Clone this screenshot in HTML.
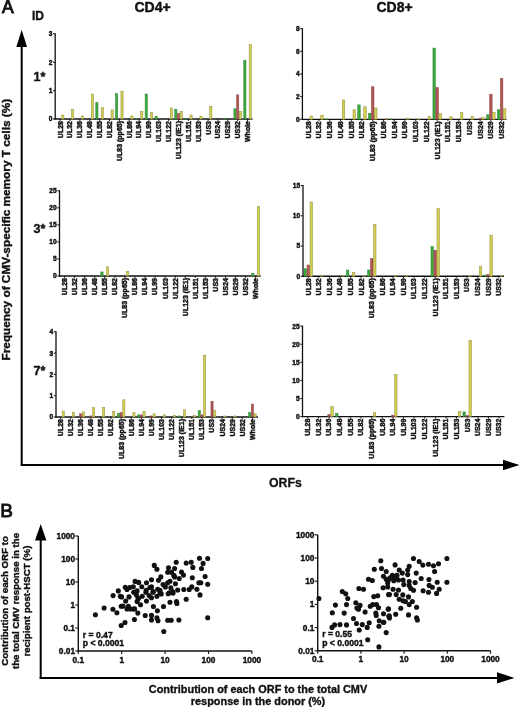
<!DOCTYPE html>
<html><head><meta charset="utf-8"><style>
html,body{margin:0;padding:0;background:#fff;}
body{width:520px;height:707px;overflow:hidden;}
svg{display:block;filter:blur(0.3px);}
text{font-family:"Liberation Sans", sans-serif;font-weight:bold;fill:#111;}
.tk{font-size:6.6px;stroke:#111;stroke-width:0.45px;}
.xl{font-size:7px;stroke:#111;stroke-width:0.45px;}
.big{font-size:18px;stroke:#111;stroke-width:0.6px;}
.bigb{font-size:19px;font-weight:normal;stroke:#111;stroke-width:0.9px;}
.id{font-size:12px;stroke:#111;stroke-width:0.35px;}
.ttl{font-size:14px;stroke:#111;stroke-width:0.4px;}
.star{font-size:12.5px;stroke:#111;stroke-width:0.4px;}
.ylab{font-size:11.8px;stroke:#111;stroke-width:0.4px;}
.orf{font-size:12.3px;stroke:#111;stroke-width:0.3px;}
.blab{font-size:10.9px;stroke:#111;stroke-width:0.35px;}
.bylab{font-size:9.7px;stroke:#111;stroke-width:0.4px;}
.sk{font-size:8.3px;stroke:#111;stroke-width:0.4px;}
.sk2{font-size:8.6px;stroke:#111;stroke-width:0.4px;}
circle{fill:#111;}
</style></head><body>
<svg width="520" height="707" viewBox="0 0 520 707">
<line x1="55.2" y1="33.30000000000001" x2="55.2" y2="119.6" stroke="#111" stroke-width="1.3"/>
<line x1="54.6" y1="119.0" x2="252.5" y2="119.0" stroke="#111" stroke-width="1.3"/>
<line x1="53.0" y1="119.00" x2="55.2" y2="119.00" stroke="#111" stroke-width="1"/>
<text x="52.400000000000006" y="121.40" class="tk" text-anchor="end">0</text>
<line x1="53.0" y1="90.60" x2="55.2" y2="90.60" stroke="#111" stroke-width="1"/>
<text x="52.400000000000006" y="93.00" class="tk" text-anchor="end">1</text>
<line x1="53.0" y1="62.20" x2="55.2" y2="62.20" stroke="#111" stroke-width="1"/>
<text x="52.400000000000006" y="64.60" class="tk" text-anchor="end">2</text>
<line x1="53.0" y1="33.80" x2="55.2" y2="33.80" stroke="#111" stroke-width="1"/>
<text x="52.400000000000006" y="36.20" class="tk" text-anchor="end">3</text>
<line x1="60.13" y1="119.0" x2="60.13" y2="121.0" stroke="#111" stroke-width="0.9"/>
<text class="xl" transform="translate(62.53,121.0) rotate(-90)" text-anchor="end">UL28</text>
<rect x="61.73" y="115.02" width="2.20" height="3.98" fill="#d2d04c" stroke="#8f8c45" stroke-width="0.5"/>
<line x1="70.00" y1="119.0" x2="70.00" y2="121.0" stroke="#111" stroke-width="0.9"/>
<text class="xl" transform="translate(72.40,121.0) rotate(-90)" text-anchor="end">UL32</text>
<rect x="71.60" y="109.34" width="2.20" height="9.66" fill="#d2d04c" stroke="#8f8c45" stroke-width="0.5"/>
<line x1="79.86" y1="119.0" x2="79.86" y2="121.0" stroke="#111" stroke-width="0.9"/>
<text class="xl" transform="translate(82.26,121.0) rotate(-90)" text-anchor="end">UL36</text>
<rect x="81.46" y="115.88" width="2.20" height="3.12" fill="#d2d04c" stroke="#8f8c45" stroke-width="0.5"/>
<line x1="89.73" y1="119.0" x2="89.73" y2="121.0" stroke="#111" stroke-width="0.9"/>
<text class="xl" transform="translate(92.13,121.0) rotate(-90)" text-anchor="end">UL48</text>
<rect x="91.33" y="94.01" width="2.20" height="24.99" fill="#d2d04c" stroke="#8f8c45" stroke-width="0.5"/>
<line x1="99.59" y1="119.0" x2="99.59" y2="121.0" stroke="#111" stroke-width="0.9"/>
<text class="xl" transform="translate(101.99,121.0) rotate(-90)" text-anchor="end">UL55</text>
<rect x="95.79" y="102.53" width="2.20" height="16.47" fill="#3aaa3a" stroke="#2d7d35" stroke-width="0.5"/>
<rect x="101.19" y="107.64" width="2.20" height="11.36" fill="#d2d04c" stroke="#8f8c45" stroke-width="0.5"/>
<line x1="109.46" y1="119.0" x2="109.46" y2="121.0" stroke="#111" stroke-width="0.9"/>
<text class="xl" transform="translate(111.86,121.0) rotate(-90)" text-anchor="end">UL82</text>
<rect x="111.06" y="109.91" width="2.20" height="9.09" fill="#d2d04c" stroke="#8f8c45" stroke-width="0.5"/>
<line x1="119.32" y1="119.0" x2="119.32" y2="121.0" stroke="#111" stroke-width="0.9"/>
<text class="xl" transform="translate(121.72,121.0) rotate(-90)" text-anchor="end">UL83 (pp65)</text>
<rect x="115.52" y="93.72" width="2.20" height="25.28" fill="#3aaa3a" stroke="#2d7d35" stroke-width="0.5"/>
<rect x="120.92" y="91.17" width="2.20" height="27.83" fill="#d2d04c" stroke="#8f8c45" stroke-width="0.5"/>
<line x1="129.19" y1="119.0" x2="129.19" y2="121.0" stroke="#111" stroke-width="0.9"/>
<text class="xl" transform="translate(131.59,121.0) rotate(-90)" text-anchor="end">UL86</text>
<rect x="130.79" y="115.88" width="2.20" height="3.12" fill="#d2d04c" stroke="#8f8c45" stroke-width="0.5"/>
<line x1="139.05" y1="119.0" x2="139.05" y2="121.0" stroke="#111" stroke-width="0.9"/>
<text class="xl" transform="translate(141.45,121.0) rotate(-90)" text-anchor="end">UL94</text>
<rect x="135.25" y="118.43" width="2.20" height="0.57" fill="#3aaa3a" stroke="#2d7d35" stroke-width="0.5"/>
<rect x="140.65" y="111.33" width="2.20" height="7.67" fill="#d2d04c" stroke="#8f8c45" stroke-width="0.5"/>
<line x1="148.92" y1="119.0" x2="148.92" y2="121.0" stroke="#111" stroke-width="0.9"/>
<text class="xl" transform="translate(151.32,121.0) rotate(-90)" text-anchor="end">UL99</text>
<rect x="145.12" y="94.01" width="2.20" height="24.99" fill="#3aaa3a" stroke="#2d7d35" stroke-width="0.5"/>
<rect x="150.52" y="112.47" width="2.20" height="6.53" fill="#d2d04c" stroke="#8f8c45" stroke-width="0.5"/>
<line x1="158.78" y1="119.0" x2="158.78" y2="121.0" stroke="#111" stroke-width="0.9"/>
<text class="xl" transform="translate(161.18,121.0) rotate(-90)" text-anchor="end">UL103</text>
<rect x="154.98" y="116.16" width="2.20" height="2.84" fill="#3aaa3a" stroke="#2d7d35" stroke-width="0.5"/>
<line x1="168.65" y1="119.0" x2="168.65" y2="121.0" stroke="#111" stroke-width="0.9"/>
<text class="xl" transform="translate(171.05,121.0) rotate(-90)" text-anchor="end">UL122</text>
<rect x="170.25" y="107.92" width="2.20" height="11.08" fill="#d2d04c" stroke="#8f8c45" stroke-width="0.5"/>
<line x1="178.51" y1="119.0" x2="178.51" y2="121.0" stroke="#111" stroke-width="0.9"/>
<text class="xl" transform="translate(180.91,121.0) rotate(-90)" text-anchor="end">UL123 (IE1)</text>
<rect x="174.71" y="109.34" width="2.20" height="9.66" fill="#3aaa3a" stroke="#2d7d35" stroke-width="0.5"/>
<rect x="177.41" y="113.60" width="2.20" height="5.40" fill="#b05454" stroke="#8c4040" stroke-width="0.5"/>
<rect x="180.11" y="111.33" width="2.20" height="7.67" fill="#d2d04c" stroke="#8f8c45" stroke-width="0.5"/>
<line x1="188.38" y1="119.0" x2="188.38" y2="121.0" stroke="#111" stroke-width="0.9"/>
<text class="xl" transform="translate(190.78,121.0) rotate(-90)" text-anchor="end">UL151</text>
<rect x="184.58" y="118.43" width="2.20" height="0.57" fill="#3aaa3a" stroke="#2d7d35" stroke-width="0.5"/>
<rect x="189.98" y="115.02" width="2.20" height="3.98" fill="#d2d04c" stroke="#8f8c45" stroke-width="0.5"/>
<line x1="198.24" y1="119.0" x2="198.24" y2="121.0" stroke="#111" stroke-width="0.9"/>
<text class="xl" transform="translate(200.64,121.0) rotate(-90)" text-anchor="end">UL153</text>
<rect x="199.84" y="116.16" width="2.20" height="2.84" fill="#d2d04c" stroke="#8f8c45" stroke-width="0.5"/>
<line x1="208.11" y1="119.0" x2="208.11" y2="121.0" stroke="#111" stroke-width="0.9"/>
<text class="xl" transform="translate(210.51,121.0) rotate(-90)" text-anchor="end">US3</text>
<rect x="209.71" y="106.22" width="2.20" height="12.78" fill="#d2d04c" stroke="#8f8c45" stroke-width="0.5"/>
<line x1="217.97" y1="119.0" x2="217.97" y2="121.0" stroke="#111" stroke-width="0.9"/>
<text class="xl" transform="translate(220.37,121.0) rotate(-90)" text-anchor="end">US24</text>
<line x1="227.84" y1="119.0" x2="227.84" y2="121.0" stroke="#111" stroke-width="0.9"/>
<text class="xl" transform="translate(230.24,121.0) rotate(-90)" text-anchor="end">US29</text>
<rect x="224.04" y="118.43" width="2.20" height="0.57" fill="#3aaa3a" stroke="#2d7d35" stroke-width="0.5"/>
<line x1="237.70" y1="119.0" x2="237.70" y2="121.0" stroke="#111" stroke-width="0.9"/>
<text class="xl" transform="translate(240.10,121.0) rotate(-90)" text-anchor="end">US32</text>
<rect x="233.90" y="108.78" width="2.20" height="10.22" fill="#3aaa3a" stroke="#2d7d35" stroke-width="0.5"/>
<rect x="236.60" y="94.86" width="2.20" height="24.14" fill="#b05454" stroke="#8c4040" stroke-width="0.5"/>
<rect x="239.30" y="111.33" width="2.20" height="7.67" fill="#d2d04c" stroke="#8f8c45" stroke-width="0.5"/>
<line x1="247.57" y1="119.0" x2="247.57" y2="121.0" stroke="#111" stroke-width="0.9"/>
<text class="xl" transform="translate(249.97,121.0) rotate(-90)" text-anchor="end">Whole</text>
<rect x="243.77" y="60.21" width="2.20" height="58.79" fill="#3aaa3a" stroke="#2d7d35" stroke-width="0.5"/>
<rect x="249.17" y="44.31" width="2.20" height="74.69" fill="#d2d04c" stroke="#8f8c45" stroke-width="0.5"/>
<line x1="59.5" y1="190.25" x2="59.5" y2="276.6" stroke="#111" stroke-width="1.3"/>
<line x1="58.9" y1="276.0" x2="260.7" y2="276.0" stroke="#111" stroke-width="1.3"/>
<line x1="57.3" y1="276.00" x2="59.5" y2="276.00" stroke="#111" stroke-width="1"/>
<text x="56.7" y="278.40" class="tk" text-anchor="end">0</text>
<line x1="57.3" y1="258.95" x2="59.5" y2="258.95" stroke="#111" stroke-width="1"/>
<text x="56.7" y="261.35" class="tk" text-anchor="end">5</text>
<line x1="57.3" y1="241.90" x2="59.5" y2="241.90" stroke="#111" stroke-width="1"/>
<text x="56.7" y="244.30" class="tk" text-anchor="end">10</text>
<line x1="57.3" y1="224.85" x2="59.5" y2="224.85" stroke="#111" stroke-width="1"/>
<text x="56.7" y="227.25" class="tk" text-anchor="end">15</text>
<line x1="57.3" y1="207.80" x2="59.5" y2="207.80" stroke="#111" stroke-width="1"/>
<text x="56.7" y="210.20" class="tk" text-anchor="end">20</text>
<line x1="57.3" y1="190.75" x2="59.5" y2="190.75" stroke="#111" stroke-width="1"/>
<text x="56.7" y="193.15" class="tk" text-anchor="end">25</text>
<line x1="64.53" y1="276.0" x2="64.53" y2="278.0" stroke="#111" stroke-width="0.9"/>
<text class="xl" transform="translate(66.93,278.0) rotate(-90)" text-anchor="end">UL28</text>
<line x1="74.59" y1="276.0" x2="74.59" y2="278.0" stroke="#111" stroke-width="0.9"/>
<text class="xl" transform="translate(76.99,278.0) rotate(-90)" text-anchor="end">UL32</text>
<line x1="84.65" y1="276.0" x2="84.65" y2="278.0" stroke="#111" stroke-width="0.9"/>
<text class="xl" transform="translate(87.05,278.0) rotate(-90)" text-anchor="end">UL36</text>
<line x1="94.71" y1="276.0" x2="94.71" y2="278.0" stroke="#111" stroke-width="0.9"/>
<text class="xl" transform="translate(97.11,278.0) rotate(-90)" text-anchor="end">UL48</text>
<line x1="104.77" y1="276.0" x2="104.77" y2="278.0" stroke="#111" stroke-width="0.9"/>
<text class="xl" transform="translate(107.17,278.0) rotate(-90)" text-anchor="end">UL55</text>
<rect x="100.82" y="271.91" width="2.30" height="4.09" fill="#3aaa3a" stroke="#2d7d35" stroke-width="0.5"/>
<rect x="106.42" y="266.79" width="2.30" height="9.21" fill="#d2d04c" stroke="#8f8c45" stroke-width="0.5"/>
<line x1="114.83" y1="276.0" x2="114.83" y2="278.0" stroke="#111" stroke-width="0.9"/>
<text class="xl" transform="translate(117.23,278.0) rotate(-90)" text-anchor="end">UL82</text>
<line x1="124.89" y1="276.0" x2="124.89" y2="278.0" stroke="#111" stroke-width="0.9"/>
<text class="xl" transform="translate(127.29,278.0) rotate(-90)" text-anchor="end">UL83 (pp65)</text>
<rect x="126.54" y="271.23" width="2.30" height="4.77" fill="#d2d04c" stroke="#8f8c45" stroke-width="0.5"/>
<line x1="134.95" y1="276.0" x2="134.95" y2="278.0" stroke="#111" stroke-width="0.9"/>
<text class="xl" transform="translate(137.35,278.0) rotate(-90)" text-anchor="end">UL86</text>
<line x1="145.01" y1="276.0" x2="145.01" y2="278.0" stroke="#111" stroke-width="0.9"/>
<text class="xl" transform="translate(147.41,278.0) rotate(-90)" text-anchor="end">UL94</text>
<line x1="155.07" y1="276.0" x2="155.07" y2="278.0" stroke="#111" stroke-width="0.9"/>
<text class="xl" transform="translate(157.47,278.0) rotate(-90)" text-anchor="end">UL99</text>
<line x1="165.13" y1="276.0" x2="165.13" y2="278.0" stroke="#111" stroke-width="0.9"/>
<text class="xl" transform="translate(167.53,278.0) rotate(-90)" text-anchor="end">UL103</text>
<line x1="175.19" y1="276.0" x2="175.19" y2="278.0" stroke="#111" stroke-width="0.9"/>
<text class="xl" transform="translate(177.59,278.0) rotate(-90)" text-anchor="end">UL122</text>
<line x1="185.25" y1="276.0" x2="185.25" y2="278.0" stroke="#111" stroke-width="0.9"/>
<text class="xl" transform="translate(187.65,278.0) rotate(-90)" text-anchor="end">UL123 (IE1)</text>
<line x1="195.31" y1="276.0" x2="195.31" y2="278.0" stroke="#111" stroke-width="0.9"/>
<text class="xl" transform="translate(197.71,278.0) rotate(-90)" text-anchor="end">UL151</text>
<line x1="205.37" y1="276.0" x2="205.37" y2="278.0" stroke="#111" stroke-width="0.9"/>
<text class="xl" transform="translate(207.77,278.0) rotate(-90)" text-anchor="end">UL153</text>
<line x1="215.43" y1="276.0" x2="215.43" y2="278.0" stroke="#111" stroke-width="0.9"/>
<text class="xl" transform="translate(217.83,278.0) rotate(-90)" text-anchor="end">US3</text>
<line x1="225.49" y1="276.0" x2="225.49" y2="278.0" stroke="#111" stroke-width="0.9"/>
<text class="xl" transform="translate(227.89,278.0) rotate(-90)" text-anchor="end">US24</text>
<line x1="235.55" y1="276.0" x2="235.55" y2="278.0" stroke="#111" stroke-width="0.9"/>
<text class="xl" transform="translate(237.95,278.0) rotate(-90)" text-anchor="end">US29</text>
<line x1="245.61" y1="276.0" x2="245.61" y2="278.0" stroke="#111" stroke-width="0.9"/>
<text class="xl" transform="translate(248.01,278.0) rotate(-90)" text-anchor="end">US32</text>
<line x1="255.67" y1="276.0" x2="255.67" y2="278.0" stroke="#111" stroke-width="0.9"/>
<text class="xl" transform="translate(258.07,278.0) rotate(-90)" text-anchor="end">Whole</text>
<rect x="251.72" y="273.44" width="2.30" height="2.56" fill="#3aaa3a" stroke="#2d7d35" stroke-width="0.5"/>
<rect x="257.32" y="206.44" width="2.30" height="69.56" fill="#d2d04c" stroke="#8f8c45" stroke-width="0.5"/>
<line x1="56.0" y1="331.3" x2="56.0" y2="417.6" stroke="#111" stroke-width="1.3"/>
<line x1="55.4" y1="417.0" x2="258.0" y2="417.0" stroke="#111" stroke-width="1.3"/>
<line x1="53.8" y1="417.00" x2="56.0" y2="417.00" stroke="#111" stroke-width="1"/>
<text x="53.2" y="419.40" class="tk" text-anchor="end">0</text>
<line x1="53.8" y1="395.70" x2="56.0" y2="395.70" stroke="#111" stroke-width="1"/>
<text x="53.2" y="398.10" class="tk" text-anchor="end">1</text>
<line x1="53.8" y1="374.40" x2="56.0" y2="374.40" stroke="#111" stroke-width="1"/>
<text x="53.2" y="376.80" class="tk" text-anchor="end">2</text>
<line x1="53.8" y1="353.10" x2="56.0" y2="353.10" stroke="#111" stroke-width="1"/>
<text x="53.2" y="355.50" class="tk" text-anchor="end">3</text>
<line x1="53.8" y1="331.80" x2="56.0" y2="331.80" stroke="#111" stroke-width="1"/>
<text x="53.2" y="334.20" class="tk" text-anchor="end">4</text>
<line x1="60.55" y1="417.0" x2="60.55" y2="419.0" stroke="#111" stroke-width="0.9"/>
<text class="xl" transform="translate(62.95,419.0) rotate(-90)" text-anchor="end">UL28</text>
<rect x="62.15" y="411.04" width="2.20" height="5.96" fill="#d2d04c" stroke="#8f8c45" stroke-width="0.5"/>
<line x1="70.65" y1="417.0" x2="70.65" y2="419.0" stroke="#111" stroke-width="0.9"/>
<text class="xl" transform="translate(73.05,419.0) rotate(-90)" text-anchor="end">UL32</text>
<rect x="72.25" y="412.31" width="2.20" height="4.69" fill="#d2d04c" stroke="#8f8c45" stroke-width="0.5"/>
<line x1="80.75" y1="417.0" x2="80.75" y2="419.0" stroke="#111" stroke-width="0.9"/>
<text class="xl" transform="translate(83.15,419.0) rotate(-90)" text-anchor="end">UL36</text>
<rect x="79.65" y="413.81" width="2.20" height="3.19" fill="#b05454" stroke="#8c4040" stroke-width="0.5"/>
<rect x="82.35" y="411.89" width="2.20" height="5.11" fill="#d2d04c" stroke="#8f8c45" stroke-width="0.5"/>
<line x1="90.85" y1="417.0" x2="90.85" y2="419.0" stroke="#111" stroke-width="0.9"/>
<text class="xl" transform="translate(93.25,419.0) rotate(-90)" text-anchor="end">UL48</text>
<rect x="89.75" y="415.94" width="2.20" height="1.07" fill="#b05454" stroke="#8c4040" stroke-width="0.5"/>
<rect x="92.45" y="407.42" width="2.20" height="9.59" fill="#d2d04c" stroke="#8f8c45" stroke-width="0.5"/>
<line x1="100.95" y1="417.0" x2="100.95" y2="419.0" stroke="#111" stroke-width="0.9"/>
<text class="xl" transform="translate(103.35,419.0) rotate(-90)" text-anchor="end">UL55</text>
<rect x="102.55" y="407.42" width="2.20" height="9.59" fill="#d2d04c" stroke="#8f8c45" stroke-width="0.5"/>
<line x1="111.05" y1="417.0" x2="111.05" y2="419.0" stroke="#111" stroke-width="0.9"/>
<text class="xl" transform="translate(113.45,419.0) rotate(-90)" text-anchor="end">UL82</text>
<rect x="112.65" y="411.25" width="2.20" height="5.75" fill="#d2d04c" stroke="#8f8c45" stroke-width="0.5"/>
<line x1="121.15" y1="417.0" x2="121.15" y2="419.0" stroke="#111" stroke-width="0.9"/>
<text class="xl" transform="translate(123.55,419.0) rotate(-90)" text-anchor="end">UL83 (pp65)</text>
<rect x="117.35" y="413.17" width="2.20" height="3.83" fill="#3aaa3a" stroke="#2d7d35" stroke-width="0.5"/>
<rect x="120.05" y="412.74" width="2.20" height="4.26" fill="#b05454" stroke="#8c4040" stroke-width="0.5"/>
<rect x="122.75" y="399.75" width="2.20" height="17.25" fill="#d2d04c" stroke="#8f8c45" stroke-width="0.5"/>
<line x1="131.25" y1="417.0" x2="131.25" y2="419.0" stroke="#111" stroke-width="0.9"/>
<text class="xl" transform="translate(133.65,419.0) rotate(-90)" text-anchor="end">UL86</text>
<rect x="132.85" y="412.74" width="2.20" height="4.26" fill="#d2d04c" stroke="#8f8c45" stroke-width="0.5"/>
<line x1="141.35" y1="417.0" x2="141.35" y2="419.0" stroke="#111" stroke-width="0.9"/>
<text class="xl" transform="translate(143.75,419.0) rotate(-90)" text-anchor="end">UL94</text>
<rect x="137.55" y="414.87" width="2.20" height="2.13" fill="#3aaa3a" stroke="#2d7d35" stroke-width="0.5"/>
<rect x="140.25" y="414.87" width="2.20" height="2.13" fill="#b05454" stroke="#8c4040" stroke-width="0.5"/>
<rect x="142.95" y="411.25" width="2.20" height="5.75" fill="#d2d04c" stroke="#8f8c45" stroke-width="0.5"/>
<line x1="151.45" y1="417.0" x2="151.45" y2="419.0" stroke="#111" stroke-width="0.9"/>
<text class="xl" transform="translate(153.85,419.0) rotate(-90)" text-anchor="end">UL99</text>
<rect x="150.35" y="415.94" width="2.20" height="1.07" fill="#b05454" stroke="#8c4040" stroke-width="0.5"/>
<rect x="153.05" y="413.81" width="2.20" height="3.19" fill="#d2d04c" stroke="#8f8c45" stroke-width="0.5"/>
<line x1="161.55" y1="417.0" x2="161.55" y2="419.0" stroke="#111" stroke-width="0.9"/>
<text class="xl" transform="translate(163.95,419.0) rotate(-90)" text-anchor="end">UL103</text>
<rect x="163.15" y="414.87" width="2.20" height="2.13" fill="#d2d04c" stroke="#8f8c45" stroke-width="0.5"/>
<line x1="171.65" y1="417.0" x2="171.65" y2="419.0" stroke="#111" stroke-width="0.9"/>
<text class="xl" transform="translate(174.05,419.0) rotate(-90)" text-anchor="end">UL122</text>
<rect x="173.25" y="415.30" width="2.20" height="1.70" fill="#d2d04c" stroke="#8f8c45" stroke-width="0.5"/>
<line x1="181.75" y1="417.0" x2="181.75" y2="419.0" stroke="#111" stroke-width="0.9"/>
<text class="xl" transform="translate(184.15,419.0) rotate(-90)" text-anchor="end">UL123 (IE1)</text>
<rect x="177.95" y="415.94" width="2.20" height="1.07" fill="#3aaa3a" stroke="#2d7d35" stroke-width="0.5"/>
<rect x="183.35" y="409.76" width="2.20" height="7.24" fill="#d2d04c" stroke="#8f8c45" stroke-width="0.5"/>
<line x1="191.85" y1="417.0" x2="191.85" y2="419.0" stroke="#111" stroke-width="0.9"/>
<text class="xl" transform="translate(194.25,419.0) rotate(-90)" text-anchor="end">UL151</text>
<rect x="193.45" y="415.30" width="2.20" height="1.70" fill="#d2d04c" stroke="#8f8c45" stroke-width="0.5"/>
<line x1="201.95" y1="417.0" x2="201.95" y2="419.0" stroke="#111" stroke-width="0.9"/>
<text class="xl" transform="translate(204.35,419.0) rotate(-90)" text-anchor="end">UL153</text>
<rect x="198.15" y="410.61" width="2.20" height="6.39" fill="#3aaa3a" stroke="#2d7d35" stroke-width="0.5"/>
<rect x="200.85" y="414.87" width="2.20" height="2.13" fill="#b05454" stroke="#8c4040" stroke-width="0.5"/>
<rect x="203.55" y="355.23" width="2.20" height="61.77" fill="#d2d04c" stroke="#8f8c45" stroke-width="0.5"/>
<line x1="212.05" y1="417.0" x2="212.05" y2="419.0" stroke="#111" stroke-width="0.9"/>
<text class="xl" transform="translate(214.45,419.0) rotate(-90)" text-anchor="end">US3</text>
<rect x="210.95" y="401.24" width="2.20" height="15.76" fill="#b05454" stroke="#8c4040" stroke-width="0.5"/>
<rect x="213.65" y="410.61" width="2.20" height="6.39" fill="#d2d04c" stroke="#8f8c45" stroke-width="0.5"/>
<line x1="222.15" y1="417.0" x2="222.15" y2="419.0" stroke="#111" stroke-width="0.9"/>
<text class="xl" transform="translate(224.55,419.0) rotate(-90)" text-anchor="end">US24</text>
<rect x="223.75" y="415.94" width="2.20" height="1.07" fill="#d2d04c" stroke="#8f8c45" stroke-width="0.5"/>
<line x1="232.25" y1="417.0" x2="232.25" y2="419.0" stroke="#111" stroke-width="0.9"/>
<text class="xl" transform="translate(234.65,419.0) rotate(-90)" text-anchor="end">US29</text>
<rect x="233.85" y="415.94" width="2.20" height="1.07" fill="#d2d04c" stroke="#8f8c45" stroke-width="0.5"/>
<line x1="242.35" y1="417.0" x2="242.35" y2="419.0" stroke="#111" stroke-width="0.9"/>
<text class="xl" transform="translate(244.75,419.0) rotate(-90)" text-anchor="end">US32</text>
<line x1="252.45" y1="417.0" x2="252.45" y2="419.0" stroke="#111" stroke-width="0.9"/>
<text class="xl" transform="translate(254.85,419.0) rotate(-90)" text-anchor="end">Whole</text>
<rect x="248.65" y="412.74" width="2.20" height="4.26" fill="#3aaa3a" stroke="#2d7d35" stroke-width="0.5"/>
<rect x="251.35" y="404.01" width="2.20" height="12.99" fill="#b05454" stroke="#8c4040" stroke-width="0.5"/>
<rect x="254.05" y="413.81" width="2.20" height="3.19" fill="#d2d04c" stroke="#8f8c45" stroke-width="0.5"/>
<line x1="302.4" y1="28.08" x2="302.4" y2="119.89999999999999" stroke="#111" stroke-width="1.3"/>
<line x1="301.79999999999995" y1="119.3" x2="506.5" y2="119.3" stroke="#111" stroke-width="1.3"/>
<line x1="300.2" y1="119.30" x2="302.4" y2="119.30" stroke="#111" stroke-width="1"/>
<text x="299.59999999999997" y="121.70" class="tk" text-anchor="end">0</text>
<line x1="300.2" y1="96.62" x2="302.4" y2="96.62" stroke="#111" stroke-width="1"/>
<text x="299.59999999999997" y="99.02" class="tk" text-anchor="end">2</text>
<line x1="300.2" y1="73.94" x2="302.4" y2="73.94" stroke="#111" stroke-width="1"/>
<text x="299.59999999999997" y="76.34" class="tk" text-anchor="end">4</text>
<line x1="300.2" y1="51.26" x2="302.4" y2="51.26" stroke="#111" stroke-width="1"/>
<text x="299.59999999999997" y="53.66" class="tk" text-anchor="end">6</text>
<line x1="300.2" y1="28.58" x2="302.4" y2="28.58" stroke="#111" stroke-width="1"/>
<text x="299.59999999999997" y="30.98" class="tk" text-anchor="end">8</text>
<line x1="308.27" y1="119.3" x2="308.27" y2="121.3" stroke="#111" stroke-width="0.9"/>
<text class="xl" transform="translate(310.67,121.3) rotate(-90)" text-anchor="end">UL28</text>
<rect x="310.02" y="116.01" width="2.50" height="3.29" fill="#d2d04c" stroke="#8f8c45" stroke-width="0.5"/>
<line x1="319.01" y1="119.3" x2="319.01" y2="121.3" stroke="#111" stroke-width="0.9"/>
<text class="xl" transform="translate(321.41,121.3) rotate(-90)" text-anchor="end">UL32</text>
<rect x="320.76" y="115.22" width="2.50" height="4.08" fill="#d2d04c" stroke="#8f8c45" stroke-width="0.5"/>
<line x1="329.76" y1="119.3" x2="329.76" y2="121.3" stroke="#111" stroke-width="0.9"/>
<text class="xl" transform="translate(332.16,121.3) rotate(-90)" text-anchor="end">UL36</text>
<rect x="325.51" y="118.96" width="2.50" height="0.34" fill="#3aaa3a" stroke="#2d7d35" stroke-width="0.5"/>
<line x1="340.50" y1="119.3" x2="340.50" y2="121.3" stroke="#111" stroke-width="0.9"/>
<text class="xl" transform="translate(342.90,121.3) rotate(-90)" text-anchor="end">UL48</text>
<rect x="342.25" y="100.02" width="2.50" height="19.28" fill="#d2d04c" stroke="#8f8c45" stroke-width="0.5"/>
<line x1="351.24" y1="119.3" x2="351.24" y2="121.3" stroke="#111" stroke-width="0.9"/>
<text class="xl" transform="translate(353.64,121.3) rotate(-90)" text-anchor="end">UL55</text>
<rect x="352.99" y="109.77" width="2.50" height="9.53" fill="#d2d04c" stroke="#8f8c45" stroke-width="0.5"/>
<line x1="361.98" y1="119.3" x2="361.98" y2="121.3" stroke="#111" stroke-width="0.9"/>
<text class="xl" transform="translate(364.38,121.3) rotate(-90)" text-anchor="end">UL82</text>
<rect x="357.73" y="104.90" width="2.50" height="14.40" fill="#3aaa3a" stroke="#2d7d35" stroke-width="0.5"/>
<rect x="363.73" y="106.83" width="2.50" height="12.47" fill="#d2d04c" stroke="#8f8c45" stroke-width="0.5"/>
<line x1="372.72" y1="119.3" x2="372.72" y2="121.3" stroke="#111" stroke-width="0.9"/>
<text class="xl" transform="translate(375.12,121.3) rotate(-90)" text-anchor="end">UL83 (pp65)</text>
<rect x="368.47" y="113.40" width="2.50" height="5.90" fill="#3aaa3a" stroke="#2d7d35" stroke-width="0.5"/>
<rect x="371.47" y="86.75" width="2.50" height="32.55" fill="#b05454" stroke="#8c4040" stroke-width="0.5"/>
<rect x="374.47" y="107.96" width="2.50" height="11.34" fill="#d2d04c" stroke="#8f8c45" stroke-width="0.5"/>
<line x1="383.47" y1="119.3" x2="383.47" y2="121.3" stroke="#111" stroke-width="0.9"/>
<text class="xl" transform="translate(385.87,121.3) rotate(-90)" text-anchor="end">UL86</text>
<rect x="385.22" y="118.73" width="2.50" height="0.57" fill="#d2d04c" stroke="#8f8c45" stroke-width="0.5"/>
<line x1="394.21" y1="119.3" x2="394.21" y2="121.3" stroke="#111" stroke-width="0.9"/>
<text class="xl" transform="translate(396.61,121.3) rotate(-90)" text-anchor="end">UL94</text>
<rect x="389.96" y="118.96" width="2.50" height="0.34" fill="#3aaa3a" stroke="#2d7d35" stroke-width="0.5"/>
<line x1="404.95" y1="119.3" x2="404.95" y2="121.3" stroke="#111" stroke-width="0.9"/>
<text class="xl" transform="translate(407.35,121.3) rotate(-90)" text-anchor="end">UL99</text>
<rect x="406.70" y="118.73" width="2.50" height="0.57" fill="#d2d04c" stroke="#8f8c45" stroke-width="0.5"/>
<line x1="415.69" y1="119.3" x2="415.69" y2="121.3" stroke="#111" stroke-width="0.9"/>
<text class="xl" transform="translate(418.09,121.3) rotate(-90)" text-anchor="end">UL103</text>
<rect x="417.44" y="118.96" width="2.50" height="0.34" fill="#d2d04c" stroke="#8f8c45" stroke-width="0.5"/>
<line x1="426.43" y1="119.3" x2="426.43" y2="121.3" stroke="#111" stroke-width="0.9"/>
<text class="xl" transform="translate(428.83,121.3) rotate(-90)" text-anchor="end">UL122</text>
<rect x="428.18" y="116.24" width="2.50" height="3.06" fill="#d2d04c" stroke="#8f8c45" stroke-width="0.5"/>
<line x1="437.18" y1="119.3" x2="437.18" y2="121.3" stroke="#111" stroke-width="0.9"/>
<text class="xl" transform="translate(439.58,121.3) rotate(-90)" text-anchor="end">UL123 (IE1)</text>
<rect x="432.93" y="48.08" width="2.50" height="71.22" fill="#3aaa3a" stroke="#2d7d35" stroke-width="0.5"/>
<rect x="435.93" y="87.55" width="2.50" height="31.75" fill="#b05454" stroke="#8c4040" stroke-width="0.5"/>
<rect x="438.93" y="113.74" width="2.50" height="5.56" fill="#d2d04c" stroke="#8f8c45" stroke-width="0.5"/>
<line x1="447.92" y1="119.3" x2="447.92" y2="121.3" stroke="#111" stroke-width="0.9"/>
<text class="xl" transform="translate(450.32,121.3) rotate(-90)" text-anchor="end">UL151</text>
<rect x="449.67" y="116.81" width="2.50" height="2.49" fill="#d2d04c" stroke="#8f8c45" stroke-width="0.5"/>
<line x1="458.66" y1="119.3" x2="458.66" y2="121.3" stroke="#111" stroke-width="0.9"/>
<text class="xl" transform="translate(461.06,121.3) rotate(-90)" text-anchor="end">UL153</text>
<rect x="460.41" y="112.72" width="2.50" height="6.58" fill="#d2d04c" stroke="#8f8c45" stroke-width="0.5"/>
<line x1="469.40" y1="119.3" x2="469.40" y2="121.3" stroke="#111" stroke-width="0.9"/>
<text class="xl" transform="translate(471.80,121.3) rotate(-90)" text-anchor="end">US3</text>
<rect x="471.15" y="116.24" width="2.50" height="3.06" fill="#d2d04c" stroke="#8f8c45" stroke-width="0.5"/>
<line x1="480.14" y1="119.3" x2="480.14" y2="121.3" stroke="#111" stroke-width="0.9"/>
<text class="xl" transform="translate(482.54,121.3) rotate(-90)" text-anchor="end">US24</text>
<rect x="478.89" y="118.17" width="2.50" height="1.13" fill="#b05454" stroke="#8c4040" stroke-width="0.5"/>
<rect x="481.89" y="117.60" width="2.50" height="1.70" fill="#d2d04c" stroke="#8f8c45" stroke-width="0.5"/>
<line x1="490.89" y1="119.3" x2="490.89" y2="121.3" stroke="#111" stroke-width="0.9"/>
<text class="xl" transform="translate(493.29,121.3) rotate(-90)" text-anchor="end">US29</text>
<rect x="486.64" y="114.76" width="2.50" height="4.54" fill="#3aaa3a" stroke="#2d7d35" stroke-width="0.5"/>
<rect x="489.64" y="94.24" width="2.50" height="25.06" fill="#b05454" stroke="#8c4040" stroke-width="0.5"/>
<rect x="492.64" y="112.16" width="2.50" height="7.14" fill="#d2d04c" stroke="#8f8c45" stroke-width="0.5"/>
<line x1="501.63" y1="119.3" x2="501.63" y2="121.3" stroke="#111" stroke-width="0.9"/>
<text class="xl" transform="translate(504.03,121.3) rotate(-90)" text-anchor="end">US32</text>
<rect x="497.38" y="109.77" width="2.50" height="9.53" fill="#3aaa3a" stroke="#2d7d35" stroke-width="0.5"/>
<rect x="500.38" y="78.48" width="2.50" height="40.82" fill="#b05454" stroke="#8c4040" stroke-width="0.5"/>
<rect x="503.38" y="108.75" width="2.50" height="10.55" fill="#d2d04c" stroke="#8f8c45" stroke-width="0.5"/>
<line x1="303.0" y1="185.0" x2="303.0" y2="276.85" stroke="#111" stroke-width="1.3"/>
<line x1="302.4" y1="276.25" x2="504.0" y2="276.25" stroke="#111" stroke-width="1.3"/>
<line x1="300.8" y1="276.25" x2="303.0" y2="276.25" stroke="#111" stroke-width="1"/>
<text x="300.2" y="278.65" class="tk" text-anchor="end">0</text>
<line x1="300.8" y1="246.00" x2="303.0" y2="246.00" stroke="#111" stroke-width="1"/>
<text x="300.2" y="248.40" class="tk" text-anchor="end">5</text>
<line x1="300.8" y1="215.75" x2="303.0" y2="215.75" stroke="#111" stroke-width="1"/>
<text x="300.2" y="218.15" class="tk" text-anchor="end">10</text>
<line x1="300.8" y1="185.50" x2="303.0" y2="185.50" stroke="#111" stroke-width="1"/>
<text x="300.2" y="187.90" class="tk" text-anchor="end">15</text>
<line x1="308.29" y1="276.25" x2="308.29" y2="278.25" stroke="#111" stroke-width="0.9"/>
<text class="xl" transform="translate(310.69,278.25) rotate(-90)" text-anchor="end">UL28</text>
<rect x="304.04" y="268.75" width="2.50" height="7.50" fill="#3aaa3a" stroke="#2d7d35" stroke-width="0.5"/>
<rect x="307.04" y="265.00" width="2.50" height="11.25" fill="#b05454" stroke="#8c4040" stroke-width="0.5"/>
<rect x="310.04" y="202.02" width="2.50" height="74.23" fill="#d2d04c" stroke="#8f8c45" stroke-width="0.5"/>
<line x1="318.87" y1="276.25" x2="318.87" y2="278.25" stroke="#111" stroke-width="0.9"/>
<text class="xl" transform="translate(321.27,278.25) rotate(-90)" text-anchor="end">UL32</text>
<rect x="320.62" y="275.64" width="2.50" height="0.60" fill="#d2d04c" stroke="#8f8c45" stroke-width="0.5"/>
<line x1="329.45" y1="276.25" x2="329.45" y2="278.25" stroke="#111" stroke-width="0.9"/>
<text class="xl" transform="translate(331.85,278.25) rotate(-90)" text-anchor="end">UL36</text>
<line x1="340.03" y1="276.25" x2="340.03" y2="278.25" stroke="#111" stroke-width="0.9"/>
<text class="xl" transform="translate(342.43,278.25) rotate(-90)" text-anchor="end">UL48</text>
<rect x="341.78" y="275.95" width="2.50" height="0.30" fill="#d2d04c" stroke="#8f8c45" stroke-width="0.5"/>
<line x1="350.61" y1="276.25" x2="350.61" y2="278.25" stroke="#111" stroke-width="0.9"/>
<text class="xl" transform="translate(353.01,278.25) rotate(-90)" text-anchor="end">UL55</text>
<rect x="346.36" y="270.02" width="2.50" height="6.23" fill="#3aaa3a" stroke="#2d7d35" stroke-width="0.5"/>
<rect x="352.36" y="272.50" width="2.50" height="3.75" fill="#d2d04c" stroke="#8f8c45" stroke-width="0.5"/>
<line x1="361.18" y1="276.25" x2="361.18" y2="278.25" stroke="#111" stroke-width="0.9"/>
<text class="xl" transform="translate(363.58,278.25) rotate(-90)" text-anchor="end">UL82</text>
<rect x="362.93" y="275.95" width="2.50" height="0.30" fill="#d2d04c" stroke="#8f8c45" stroke-width="0.5"/>
<line x1="371.76" y1="276.25" x2="371.76" y2="278.25" stroke="#111" stroke-width="0.9"/>
<text class="xl" transform="translate(374.16,278.25) rotate(-90)" text-anchor="end">UL83 (pp65)</text>
<rect x="367.51" y="270.02" width="2.50" height="6.23" fill="#3aaa3a" stroke="#2d7d35" stroke-width="0.5"/>
<rect x="370.51" y="258.70" width="2.50" height="17.54" fill="#b05454" stroke="#8c4040" stroke-width="0.5"/>
<rect x="373.51" y="224.52" width="2.50" height="51.73" fill="#d2d04c" stroke="#8f8c45" stroke-width="0.5"/>
<line x1="382.34" y1="276.25" x2="382.34" y2="278.25" stroke="#111" stroke-width="0.9"/>
<text class="xl" transform="translate(384.74,278.25) rotate(-90)" text-anchor="end">UL86</text>
<line x1="392.92" y1="276.25" x2="392.92" y2="278.25" stroke="#111" stroke-width="0.9"/>
<text class="xl" transform="translate(395.32,278.25) rotate(-90)" text-anchor="end">UL94</text>
<rect x="394.67" y="275.64" width="2.50" height="0.60" fill="#d2d04c" stroke="#8f8c45" stroke-width="0.5"/>
<line x1="403.50" y1="276.25" x2="403.50" y2="278.25" stroke="#111" stroke-width="0.9"/>
<text class="xl" transform="translate(405.90,278.25) rotate(-90)" text-anchor="end">UL99</text>
<rect x="405.25" y="275.95" width="2.50" height="0.30" fill="#d2d04c" stroke="#8f8c45" stroke-width="0.5"/>
<line x1="414.08" y1="276.25" x2="414.08" y2="278.25" stroke="#111" stroke-width="0.9"/>
<text class="xl" transform="translate(416.48,278.25) rotate(-90)" text-anchor="end">UL103</text>
<line x1="424.66" y1="276.25" x2="424.66" y2="278.25" stroke="#111" stroke-width="0.9"/>
<text class="xl" transform="translate(427.06,278.25) rotate(-90)" text-anchor="end">UL122</text>
<line x1="435.24" y1="276.25" x2="435.24" y2="278.25" stroke="#111" stroke-width="0.9"/>
<text class="xl" transform="translate(437.64,278.25) rotate(-90)" text-anchor="end">UL123 (IE1)</text>
<rect x="430.99" y="246.60" width="2.50" height="29.64" fill="#3aaa3a" stroke="#2d7d35" stroke-width="0.5"/>
<rect x="433.99" y="250.24" width="2.50" height="26.01" fill="#b05454" stroke="#8c4040" stroke-width="0.5"/>
<rect x="436.99" y="208.49" width="2.50" height="67.76" fill="#d2d04c" stroke="#8f8c45" stroke-width="0.5"/>
<line x1="445.82" y1="276.25" x2="445.82" y2="278.25" stroke="#111" stroke-width="0.9"/>
<text class="xl" transform="translate(448.22,278.25) rotate(-90)" text-anchor="end">UL151</text>
<line x1="456.39" y1="276.25" x2="456.39" y2="278.25" stroke="#111" stroke-width="0.9"/>
<text class="xl" transform="translate(458.79,278.25) rotate(-90)" text-anchor="end">UL153</text>
<line x1="466.97" y1="276.25" x2="466.97" y2="278.25" stroke="#111" stroke-width="0.9"/>
<text class="xl" transform="translate(469.37,278.25) rotate(-90)" text-anchor="end">US3</text>
<rect x="468.72" y="275.64" width="2.50" height="0.60" fill="#d2d04c" stroke="#8f8c45" stroke-width="0.5"/>
<line x1="477.55" y1="276.25" x2="477.55" y2="278.25" stroke="#111" stroke-width="0.9"/>
<text class="xl" transform="translate(479.95,278.25) rotate(-90)" text-anchor="end">US24</text>
<rect x="479.30" y="266.57" width="2.50" height="9.68" fill="#d2d04c" stroke="#8f8c45" stroke-width="0.5"/>
<line x1="488.13" y1="276.25" x2="488.13" y2="278.25" stroke="#111" stroke-width="0.9"/>
<text class="xl" transform="translate(490.53,278.25) rotate(-90)" text-anchor="end">US29</text>
<rect x="483.88" y="275.04" width="2.50" height="1.21" fill="#3aaa3a" stroke="#2d7d35" stroke-width="0.5"/>
<rect x="486.88" y="274.44" width="2.50" height="1.81" fill="#b05454" stroke="#8c4040" stroke-width="0.5"/>
<rect x="489.88" y="235.11" width="2.50" height="41.14" fill="#d2d04c" stroke="#8f8c45" stroke-width="0.5"/>
<line x1="498.71" y1="276.25" x2="498.71" y2="278.25" stroke="#111" stroke-width="0.9"/>
<text class="xl" transform="translate(501.11,278.25) rotate(-90)" text-anchor="end">US32</text>
<rect x="500.46" y="275.64" width="2.50" height="0.60" fill="#d2d04c" stroke="#8f8c45" stroke-width="0.5"/>
<line x1="302.5" y1="325.6" x2="302.5" y2="417.20000000000005" stroke="#111" stroke-width="1.3"/>
<line x1="301.9" y1="416.6" x2="504.4" y2="416.6" stroke="#111" stroke-width="1.3"/>
<line x1="300.3" y1="416.60" x2="302.5" y2="416.60" stroke="#111" stroke-width="1"/>
<text x="299.7" y="419.00" class="tk" text-anchor="end">0</text>
<line x1="300.3" y1="398.50" x2="302.5" y2="398.50" stroke="#111" stroke-width="1"/>
<text x="299.7" y="400.90" class="tk" text-anchor="end">5</text>
<line x1="300.3" y1="380.40" x2="302.5" y2="380.40" stroke="#111" stroke-width="1"/>
<text x="299.7" y="382.80" class="tk" text-anchor="end">10</text>
<line x1="300.3" y1="362.30" x2="302.5" y2="362.30" stroke="#111" stroke-width="1"/>
<text x="299.7" y="364.70" class="tk" text-anchor="end">15</text>
<line x1="300.3" y1="344.20" x2="302.5" y2="344.20" stroke="#111" stroke-width="1"/>
<text x="299.7" y="346.60" class="tk" text-anchor="end">20</text>
<line x1="300.3" y1="326.10" x2="302.5" y2="326.10" stroke="#111" stroke-width="1"/>
<text x="299.7" y="328.50" class="tk" text-anchor="end">25</text>
<line x1="307.81" y1="416.6" x2="307.81" y2="418.6" stroke="#111" stroke-width="0.9"/>
<text class="xl" transform="translate(310.21,418.6) rotate(-90)" text-anchor="end">UL28</text>
<line x1="318.44" y1="416.6" x2="318.44" y2="418.6" stroke="#111" stroke-width="0.9"/>
<text class="xl" transform="translate(320.84,418.6) rotate(-90)" text-anchor="end">UL32</text>
<line x1="329.07" y1="416.6" x2="329.07" y2="418.6" stroke="#111" stroke-width="0.9"/>
<text class="xl" transform="translate(331.47,418.6) rotate(-90)" text-anchor="end">UL36</text>
<rect x="327.82" y="414.61" width="2.50" height="1.99" fill="#b05454" stroke="#8c4040" stroke-width="0.5"/>
<rect x="330.82" y="406.65" width="2.50" height="9.96" fill="#d2d04c" stroke="#8f8c45" stroke-width="0.5"/>
<line x1="339.69" y1="416.6" x2="339.69" y2="418.6" stroke="#111" stroke-width="0.9"/>
<text class="xl" transform="translate(342.09,418.6) rotate(-90)" text-anchor="end">UL48</text>
<rect x="335.44" y="413.34" width="2.50" height="3.26" fill="#3aaa3a" stroke="#2d7d35" stroke-width="0.5"/>
<line x1="350.32" y1="416.6" x2="350.32" y2="418.6" stroke="#111" stroke-width="0.9"/>
<text class="xl" transform="translate(352.72,418.6) rotate(-90)" text-anchor="end">UL55</text>
<line x1="360.94" y1="416.6" x2="360.94" y2="418.6" stroke="#111" stroke-width="0.9"/>
<text class="xl" transform="translate(363.34,418.6) rotate(-90)" text-anchor="end">UL82</text>
<line x1="371.57" y1="416.6" x2="371.57" y2="418.6" stroke="#111" stroke-width="0.9"/>
<text class="xl" transform="translate(373.97,418.6) rotate(-90)" text-anchor="end">UL83 (pp65)</text>
<rect x="373.32" y="412.62" width="2.50" height="3.98" fill="#d2d04c" stroke="#8f8c45" stroke-width="0.5"/>
<line x1="382.20" y1="416.6" x2="382.20" y2="418.6" stroke="#111" stroke-width="0.9"/>
<text class="xl" transform="translate(384.60,418.6) rotate(-90)" text-anchor="end">UL86</text>
<line x1="392.82" y1="416.6" x2="392.82" y2="418.6" stroke="#111" stroke-width="0.9"/>
<text class="xl" transform="translate(395.22,418.6) rotate(-90)" text-anchor="end">UL94</text>
<rect x="391.57" y="415.15" width="2.50" height="1.45" fill="#b05454" stroke="#8c4040" stroke-width="0.5"/>
<rect x="394.57" y="374.25" width="2.50" height="42.35" fill="#d2d04c" stroke="#8f8c45" stroke-width="0.5"/>
<line x1="403.45" y1="416.6" x2="403.45" y2="418.6" stroke="#111" stroke-width="0.9"/>
<text class="xl" transform="translate(405.85,418.6) rotate(-90)" text-anchor="end">UL99</text>
<line x1="414.08" y1="416.6" x2="414.08" y2="418.6" stroke="#111" stroke-width="0.9"/>
<text class="xl" transform="translate(416.48,418.6) rotate(-90)" text-anchor="end">UL103</text>
<line x1="424.70" y1="416.6" x2="424.70" y2="418.6" stroke="#111" stroke-width="0.9"/>
<text class="xl" transform="translate(427.10,418.6) rotate(-90)" text-anchor="end">UL122</text>
<line x1="435.33" y1="416.6" x2="435.33" y2="418.6" stroke="#111" stroke-width="0.9"/>
<text class="xl" transform="translate(437.73,418.6) rotate(-90)" text-anchor="end">UL123 (IE1)</text>
<line x1="445.96" y1="416.6" x2="445.96" y2="418.6" stroke="#111" stroke-width="0.9"/>
<text class="xl" transform="translate(448.36,418.6) rotate(-90)" text-anchor="end">UL151</text>
<line x1="456.58" y1="416.6" x2="456.58" y2="418.6" stroke="#111" stroke-width="0.9"/>
<text class="xl" transform="translate(458.98,418.6) rotate(-90)" text-anchor="end">UL153</text>
<rect x="458.33" y="411.53" width="2.50" height="5.07" fill="#d2d04c" stroke="#8f8c45" stroke-width="0.5"/>
<line x1="467.21" y1="416.6" x2="467.21" y2="418.6" stroke="#111" stroke-width="0.9"/>
<text class="xl" transform="translate(469.61,418.6) rotate(-90)" text-anchor="end">US3</text>
<rect x="462.96" y="411.89" width="2.50" height="4.71" fill="#3aaa3a" stroke="#2d7d35" stroke-width="0.5"/>
<rect x="465.96" y="415.51" width="2.50" height="1.09" fill="#b05454" stroke="#8c4040" stroke-width="0.5"/>
<rect x="468.96" y="340.22" width="2.50" height="76.38" fill="#d2d04c" stroke="#8f8c45" stroke-width="0.5"/>
<line x1="477.83" y1="416.6" x2="477.83" y2="418.6" stroke="#111" stroke-width="0.9"/>
<text class="xl" transform="translate(480.23,418.6) rotate(-90)" text-anchor="end">US24</text>
<line x1="488.46" y1="416.6" x2="488.46" y2="418.6" stroke="#111" stroke-width="0.9"/>
<text class="xl" transform="translate(490.86,418.6) rotate(-90)" text-anchor="end">US29</text>
<line x1="499.09" y1="416.6" x2="499.09" y2="418.6" stroke="#111" stroke-width="0.9"/>
<text class="xl" transform="translate(501.49,418.6) rotate(-90)" text-anchor="end">US32</text>
<text x="1.9" y="13" class="bigb" style="font-size:17.5px">A</text>
<text x="32" y="20" class="id">ID</text>
<text x="152.5" y="11.6" class="ttl" text-anchor="middle">CD4+</text>
<text x="394.5" y="11.6" class="ttl" text-anchor="middle">CD8+</text>
<text x="33.5" y="80.5" class="star">1*</text>
<text x="33.5" y="232.5" class="star">3*</text>
<text x="33.5" y="375" class="star">7*</text>
<line x1="21.7" y1="44" x2="21.7" y2="465" stroke="#000" stroke-width="2"/>
<polygon points="21.7,29.8 16.3,47 27.1,47" fill="#000"/>
<line x1="20.7" y1="465" x2="505" y2="465" stroke="#000" stroke-width="2"/>
<polygon points="519.5,465 503,459.7 503,470.3" fill="#000"/>
<text class="ylab" transform="translate(10.3,229.7) rotate(-90)" text-anchor="middle">Frequency of CMV-specific memory T cells (%)</text>
<text x="285.4" y="486.5" class="orf" text-anchor="middle">ORFs</text>
<text x="0.3" y="517.1" class="bigb">B</text>
<line x1="40.7" y1="538" x2="40.7" y2="678.8" stroke="#000" stroke-width="2"/>
<polygon points="40.7,524 35,540.5 46.4,540.5" fill="#000"/>
<line x1="39.7" y1="678" x2="499" y2="678" stroke="#000" stroke-width="2"/>
<polygon points="514.5,678 497,672.3 497,683.5" fill="#000"/>
<text class="blab" text-anchor="middle"><tspan x="258" y="693">Contribution of each ORF to the total CMV</tspan><tspan x="258" y="705">response in the donor (%)</tspan></text>
<text class="bylab" transform="translate(8.2,601) rotate(-90)" text-anchor="middle">Contribution of each ORF to</text>
<text class="bylab" transform="translate(18.9,601) rotate(-90)" text-anchor="middle">the total CMV response in the</text>
<text class="bylab" transform="translate(29.6,601) rotate(-90)" text-anchor="middle">recipient post-HSCT (%)</text>
<line x1="78.3" y1="536.0" x2="78.3" y2="651.7" stroke="#111" stroke-width="1.4"/>
<line x1="77.6" y1="651.0" x2="251.89999999999998" y2="651.0" stroke="#111" stroke-width="1.4"/>
<line x1="75.3" y1="651.00" x2="78.3" y2="651.00" stroke="#111" stroke-width="1.1"/>
<text x="75.0" y="654.00" class="sk" text-anchor="end">0.01</text>
<line x1="75.3" y1="628.00" x2="78.3" y2="628.00" stroke="#111" stroke-width="1.1"/>
<text x="75.0" y="631.00" class="sk" text-anchor="end">0.1</text>
<line x1="75.3" y1="605.00" x2="78.3" y2="605.00" stroke="#111" stroke-width="1.1"/>
<text x="75.0" y="608.00" class="sk" text-anchor="end">1</text>
<line x1="75.3" y1="582.00" x2="78.3" y2="582.00" stroke="#111" stroke-width="1.1"/>
<text x="75.0" y="585.00" class="sk" text-anchor="end">10</text>
<line x1="75.3" y1="559.00" x2="78.3" y2="559.00" stroke="#111" stroke-width="1.1"/>
<text x="75.0" y="562.00" class="sk" text-anchor="end">100</text>
<line x1="75.3" y1="536.00" x2="78.3" y2="536.00" stroke="#111" stroke-width="1.1"/>
<text x="75.0" y="539.00" class="sk" text-anchor="end">1000</text>
<line x1="78.30" y1="651.0" x2="78.30" y2="654.0" stroke="#111" stroke-width="1.1"/>
<text x="78.30" y="662.5" class="sk" text-anchor="middle">0.1</text>
<line x1="121.70" y1="651.0" x2="121.70" y2="654.0" stroke="#111" stroke-width="1.1"/>
<text x="121.70" y="662.5" class="sk" text-anchor="middle">1</text>
<line x1="165.10" y1="651.0" x2="165.10" y2="654.0" stroke="#111" stroke-width="1.1"/>
<text x="165.10" y="662.5" class="sk" text-anchor="middle">10</text>
<line x1="208.50" y1="651.0" x2="208.50" y2="654.0" stroke="#111" stroke-width="1.1"/>
<text x="208.50" y="662.5" class="sk" text-anchor="middle">100</text>
<line x1="251.90" y1="651.0" x2="251.90" y2="654.0" stroke="#111" stroke-width="1.1"/>
<text x="251.90" y="662.5" class="sk" text-anchor="middle">1000</text>
<text x="82.8" y="637.5" class="sk2">r = 0.47</text>
<text x="82.8" y="646.3" class="sk2">p &lt; 0.0001</text>
<circle cx="95.4" cy="614.7" r="2.55"/>
<circle cx="104.1" cy="608" r="2.55"/>
<circle cx="112.9" cy="609.3" r="2.55"/>
<circle cx="116.9" cy="612.8" r="2.55"/>
<circle cx="113.1" cy="595.6" r="2.55"/>
<circle cx="118.3" cy="590.9" r="2.55"/>
<circle cx="120.3" cy="596.2" r="2.55"/>
<circle cx="121.6" cy="596.9" r="2.55"/>
<circle cx="121.2" cy="606.3" r="2.55"/>
<circle cx="125" cy="622.5" r="2.55"/>
<circle cx="121.2" cy="625.5" r="2.55"/>
<circle cx="125.3" cy="587.2" r="2.55"/>
<circle cx="127" cy="589.5" r="2.55"/>
<circle cx="125.7" cy="601" r="2.55"/>
<circle cx="128.4" cy="606.3" r="2.55"/>
<circle cx="129.7" cy="587.5" r="2.55"/>
<circle cx="129" cy="596.9" r="2.55"/>
<circle cx="130.4" cy="609" r="2.55"/>
<circle cx="134.4" cy="619.5" r="2.55"/>
<circle cx="135.1" cy="581.4" r="2.55"/>
<circle cx="138.7" cy="582.4" r="2.55"/>
<circle cx="133.3" cy="586.8" r="2.55"/>
<circle cx="133.7" cy="592.2" r="2.55"/>
<circle cx="137.1" cy="590.9" r="2.55"/>
<circle cx="136.4" cy="594.9" r="2.55"/>
<circle cx="138.5" cy="598.3" r="2.55"/>
<circle cx="137.1" cy="601.6" r="2.55"/>
<circle cx="140.5" cy="604.7" r="2.55"/>
<circle cx="133.1" cy="609" r="2.55"/>
<circle cx="137.8" cy="613.1" r="2.55"/>
<circle cx="141.8" cy="586.8" r="2.55"/>
<circle cx="142.2" cy="596.2" r="2.55"/>
<circle cx="146.5" cy="582.8" r="2.55"/>
<circle cx="145.9" cy="592.2" r="2.55"/>
<circle cx="146.5" cy="601" r="2.55"/>
<circle cx="145.2" cy="615.5" r="2.55"/>
<circle cx="149.9" cy="587.5" r="2.55"/>
<circle cx="149.2" cy="595.6" r="2.55"/>
<circle cx="127" cy="609" r="2.55"/>
<circle cx="123" cy="606.1" r="2.55"/>
<circle cx="154.3" cy="565.4" r="2.55"/>
<circle cx="156.9" cy="569.2" r="2.55"/>
<circle cx="176.2" cy="562.3" r="2.55"/>
<circle cx="186.2" cy="563.1" r="2.55"/>
<circle cx="191.2" cy="562.3" r="2.55"/>
<circle cx="192.8" cy="567.4" r="2.55"/>
<circle cx="199.5" cy="558.2" r="2.55"/>
<circle cx="207.7" cy="558.5" r="2.55"/>
<circle cx="203.1" cy="563.4" r="2.55"/>
<circle cx="201.5" cy="568.5" r="2.55"/>
<circle cx="168.5" cy="567.7" r="2.55"/>
<circle cx="174.6" cy="568.5" r="2.55"/>
<circle cx="167.7" cy="572.3" r="2.55"/>
<circle cx="171.5" cy="572.3" r="2.55"/>
<circle cx="173.8" cy="575.4" r="2.55"/>
<circle cx="181.5" cy="572" r="2.55"/>
<circle cx="183.5" cy="575.1" r="2.55"/>
<circle cx="179.2" cy="578.5" r="2.55"/>
<circle cx="174.6" cy="576.9" r="2.55"/>
<circle cx="160.8" cy="576.9" r="2.55"/>
<circle cx="158.5" cy="580.3" r="2.55"/>
<circle cx="151.5" cy="579.7" r="2.55"/>
<circle cx="170" cy="581.2" r="2.55"/>
<circle cx="167.7" cy="582.8" r="2.55"/>
<circle cx="192.3" cy="577.7" r="2.55"/>
<circle cx="205.1" cy="576.5" r="2.55"/>
<circle cx="198.9" cy="582.8" r="2.55"/>
<circle cx="200.8" cy="582.8" r="2.55"/>
<circle cx="207.7" cy="584.3" r="2.55"/>
<circle cx="175.4" cy="583.8" r="2.55"/>
<circle cx="163.1" cy="584.6" r="2.55"/>
<circle cx="165.4" cy="586.9" r="2.55"/>
<circle cx="170.8" cy="587.7" r="2.55"/>
<circle cx="151.5" cy="586.9" r="2.55"/>
<circle cx="157.7" cy="589.2" r="2.55"/>
<circle cx="153.1" cy="592.3" r="2.55"/>
<circle cx="160" cy="593.1" r="2.55"/>
<circle cx="156.9" cy="596.2" r="2.55"/>
<circle cx="151.5" cy="597.7" r="2.55"/>
<circle cx="168.2" cy="593.8" r="2.55"/>
<circle cx="173.1" cy="593.1" r="2.55"/>
<circle cx="177.7" cy="590" r="2.55"/>
<circle cx="183.8" cy="589.5" r="2.55"/>
<circle cx="189.2" cy="589.5" r="2.55"/>
<circle cx="191.8" cy="586.9" r="2.55"/>
<circle cx="196.9" cy="589.2" r="2.55"/>
<circle cx="200" cy="594.9" r="2.55"/>
<circle cx="186.2" cy="599.2" r="2.55"/>
<circle cx="170" cy="602.3" r="2.55"/>
<circle cx="176.5" cy="601.5" r="2.55"/>
<circle cx="176.9" cy="603.4" r="2.55"/>
<circle cx="163.5" cy="606.5" r="2.55"/>
<circle cx="153.4" cy="606.5" r="2.55"/>
<circle cx="157.4" cy="610.8" r="2.55"/>
<circle cx="151.5" cy="615.4" r="2.55"/>
<circle cx="156.9" cy="617.7" r="2.55"/>
<circle cx="158" cy="620.8" r="2.55"/>
<circle cx="151.5" cy="620" r="2.55"/>
<circle cx="167.7" cy="620.3" r="2.55"/>
<circle cx="171.2" cy="620.3" r="2.55"/>
<circle cx="178.9" cy="620" r="2.55"/>
<circle cx="207.7" cy="617.7" r="2.55"/>
<circle cx="163.8" cy="631.5" r="2.55"/>
<circle cx="146.2" cy="590.4" r="2.55"/>
<circle cx="153.1" cy="591.6" r="2.55"/>
<circle cx="160" cy="590.4" r="2.55"/>
<circle cx="161.2" cy="593.9" r="2.55"/>
<circle cx="169.3" cy="592.7" r="2.55"/>
<circle cx="172.7" cy="591.6" r="2.55"/>
<circle cx="138.1" cy="598.5" r="2.55"/>
<circle cx="134.6" cy="608.9" r="2.55"/>
<line x1="317.7" y1="534.8" x2="317.7" y2="651.5" stroke="#111" stroke-width="1.4"/>
<line x1="317.0" y1="650.8" x2="490.5" y2="650.8" stroke="#111" stroke-width="1.4"/>
<line x1="314.7" y1="650.80" x2="317.7" y2="650.80" stroke="#111" stroke-width="1.1"/>
<text x="314.4" y="653.80" class="sk" text-anchor="end">0.01</text>
<line x1="314.7" y1="627.60" x2="317.7" y2="627.60" stroke="#111" stroke-width="1.1"/>
<text x="314.4" y="630.60" class="sk" text-anchor="end">0.1</text>
<line x1="314.7" y1="604.40" x2="317.7" y2="604.40" stroke="#111" stroke-width="1.1"/>
<text x="314.4" y="607.40" class="sk" text-anchor="end">1</text>
<line x1="314.7" y1="581.20" x2="317.7" y2="581.20" stroke="#111" stroke-width="1.1"/>
<text x="314.4" y="584.20" class="sk" text-anchor="end">10</text>
<line x1="314.7" y1="558.00" x2="317.7" y2="558.00" stroke="#111" stroke-width="1.1"/>
<text x="314.4" y="561.00" class="sk" text-anchor="end">100</text>
<line x1="314.7" y1="534.80" x2="317.7" y2="534.80" stroke="#111" stroke-width="1.1"/>
<text x="314.4" y="537.80" class="sk" text-anchor="end">1000</text>
<line x1="317.70" y1="650.8" x2="317.70" y2="653.8" stroke="#111" stroke-width="1.1"/>
<text x="317.70" y="662.3" class="sk" text-anchor="middle">0.1</text>
<line x1="360.90" y1="650.8" x2="360.90" y2="653.8" stroke="#111" stroke-width="1.1"/>
<text x="360.90" y="662.3" class="sk" text-anchor="middle">1</text>
<line x1="404.10" y1="650.8" x2="404.10" y2="653.8" stroke="#111" stroke-width="1.1"/>
<text x="404.10" y="662.3" class="sk" text-anchor="middle">10</text>
<line x1="447.30" y1="650.8" x2="447.30" y2="653.8" stroke="#111" stroke-width="1.1"/>
<text x="447.30" y="662.3" class="sk" text-anchor="middle">100</text>
<line x1="490.50" y1="650.8" x2="490.50" y2="653.8" stroke="#111" stroke-width="1.1"/>
<text x="490.50" y="662.3" class="sk" text-anchor="middle">1000</text>
<text x="322.2" y="637.3" class="sk2">r = 0.55</text>
<text x="322.2" y="646.0999999999999" class="sk2">p &lt; 0.0001</text>
<circle cx="318.9" cy="598.5" r="2.55"/>
<circle cx="335.4" cy="605.1" r="2.55"/>
<circle cx="332.3" cy="612.8" r="2.55"/>
<circle cx="332" cy="627.4" r="2.55"/>
<circle cx="334.6" cy="624.9" r="2.55"/>
<circle cx="340" cy="624.6" r="2.55"/>
<circle cx="346.5" cy="624.9" r="2.55"/>
<circle cx="344.2" cy="613.1" r="2.55"/>
<circle cx="346.5" cy="604.6" r="2.55"/>
<circle cx="342.3" cy="591.5" r="2.55"/>
<circle cx="345.7" cy="593.8" r="2.55"/>
<circle cx="347.7" cy="598.5" r="2.55"/>
<circle cx="353.5" cy="618.5" r="2.55"/>
<circle cx="355.8" cy="602.8" r="2.55"/>
<circle cx="356.9" cy="608" r="2.55"/>
<circle cx="360" cy="605.4" r="2.55"/>
<circle cx="358.5" cy="609.2" r="2.55"/>
<circle cx="356.5" cy="623.5" r="2.55"/>
<circle cx="362.3" cy="624.6" r="2.55"/>
<circle cx="359.2" cy="630" r="2.55"/>
<circle cx="358.9" cy="588.5" r="2.55"/>
<circle cx="363.5" cy="589.2" r="2.55"/>
<circle cx="365.1" cy="612" r="2.55"/>
<circle cx="367.2" cy="627.4" r="2.55"/>
<circle cx="369.2" cy="622.8" r="2.55"/>
<circle cx="367.7" cy="639.7" r="2.55"/>
<circle cx="378.9" cy="646.9" r="2.55"/>
<circle cx="368.5" cy="579.2" r="2.55"/>
<circle cx="372.3" cy="580.5" r="2.55"/>
<circle cx="374.3" cy="569.2" r="2.55"/>
<circle cx="370.3" cy="606.2" r="2.55"/>
<circle cx="372.8" cy="604.6" r="2.55"/>
<circle cx="373.8" cy="596.6" r="2.55"/>
<circle cx="377.7" cy="595.7" r="2.55"/>
<circle cx="376.5" cy="604.6" r="2.55"/>
<circle cx="378.5" cy="607.7" r="2.55"/>
<circle cx="375.8" cy="613.1" r="2.55"/>
<circle cx="376.2" cy="615.4" r="2.55"/>
<circle cx="379.2" cy="620.8" r="2.55"/>
<circle cx="378.9" cy="626.2" r="2.55"/>
<circle cx="383.5" cy="613.8" r="2.55"/>
<circle cx="383.8" cy="622.3" r="2.55"/>
<circle cx="386.2" cy="632.6" r="2.55"/>
<circle cx="380.8" cy="560.8" r="2.55"/>
<circle cx="381.5" cy="568.5" r="2.55"/>
<circle cx="386.2" cy="571.5" r="2.55"/>
<circle cx="383.5" cy="576.2" r="2.55"/>
<circle cx="386.2" cy="579.2" r="2.55"/>
<circle cx="383.1" cy="587.7" r="2.55"/>
<circle cx="387.7" cy="583.1" r="2.55"/>
<circle cx="388.5" cy="594.6" r="2.55"/>
<circle cx="388.2" cy="609.2" r="2.55"/>
<circle cx="388.8" cy="616.2" r="2.55"/>
<circle cx="395.1" cy="564.9" r="2.55"/>
<circle cx="413.5" cy="558.5" r="2.55"/>
<circle cx="419.2" cy="561.5" r="2.55"/>
<circle cx="422.8" cy="565.1" r="2.55"/>
<circle cx="428.5" cy="564.3" r="2.55"/>
<circle cx="433.5" cy="565.8" r="2.55"/>
<circle cx="438.5" cy="563.8" r="2.55"/>
<circle cx="446.9" cy="558.5" r="2.55"/>
<circle cx="434.6" cy="571.5" r="2.55"/>
<circle cx="409.2" cy="566.2" r="2.55"/>
<circle cx="407.7" cy="570" r="2.55"/>
<circle cx="399.2" cy="570" r="2.55"/>
<circle cx="402.3" cy="573.1" r="2.55"/>
<circle cx="416.2" cy="573.1" r="2.55"/>
<circle cx="407.7" cy="574.6" r="2.55"/>
<circle cx="393.1" cy="576.2" r="2.55"/>
<circle cx="389.2" cy="579.2" r="2.55"/>
<circle cx="393.8" cy="580.8" r="2.55"/>
<circle cx="398.5" cy="580" r="2.55"/>
<circle cx="403.1" cy="580" r="2.55"/>
<circle cx="409.2" cy="581.5" r="2.55"/>
<circle cx="415.1" cy="582.6" r="2.55"/>
<circle cx="421.2" cy="578.5" r="2.55"/>
<circle cx="428.9" cy="579.5" r="2.55"/>
<circle cx="437.2" cy="582.3" r="2.55"/>
<circle cx="446.9" cy="582.3" r="2.55"/>
<circle cx="403.8" cy="584.6" r="2.55"/>
<circle cx="409.2" cy="585.4" r="2.55"/>
<circle cx="387.7" cy="586.9" r="2.55"/>
<circle cx="429.2" cy="585.4" r="2.55"/>
<circle cx="432.3" cy="587.2" r="2.55"/>
<circle cx="439.2" cy="589.2" r="2.55"/>
<circle cx="393.1" cy="589.2" r="2.55"/>
<circle cx="398.5" cy="590" r="2.55"/>
<circle cx="410.8" cy="588.5" r="2.55"/>
<circle cx="413.5" cy="590.3" r="2.55"/>
<circle cx="423.1" cy="590.8" r="2.55"/>
<circle cx="428.5" cy="592.3" r="2.55"/>
<circle cx="436.6" cy="593.4" r="2.55"/>
<circle cx="389.5" cy="594.6" r="2.55"/>
<circle cx="396.2" cy="594.6" r="2.55"/>
<circle cx="402.8" cy="594.9" r="2.55"/>
<circle cx="408.5" cy="596.9" r="2.55"/>
<circle cx="399.2" cy="599.2" r="2.55"/>
<circle cx="403.1" cy="600.8" r="2.55"/>
<circle cx="405.4" cy="601.5" r="2.55"/>
<circle cx="412.3" cy="601.5" r="2.55"/>
<circle cx="409.2" cy="604.6" r="2.55"/>
<circle cx="416.6" cy="607.2" r="2.55"/>
<circle cx="388.5" cy="608.8" r="2.55"/>
<circle cx="400.8" cy="608.2" r="2.55"/>
<circle cx="389.2" cy="615.8" r="2.55"/>
<circle cx="389.5" cy="618" r="2.55"/>
<circle cx="395.7" cy="614.3" r="2.55"/>
<circle cx="408.5" cy="614.9" r="2.55"/>
<circle cx="416.6" cy="617.7" r="2.55"/>
<circle cx="417.4" cy="620" r="2.55"/>
<circle cx="383.4" cy="622.3" r="2.55"/>
<circle cx="392.4" cy="575.4" r="2.55"/>
<circle cx="397" cy="575.4" r="2.55"/>
<circle cx="390" cy="577.7" r="2.55"/>
<circle cx="394.7" cy="578.9" r="2.55"/>
</svg>
</body></html>
